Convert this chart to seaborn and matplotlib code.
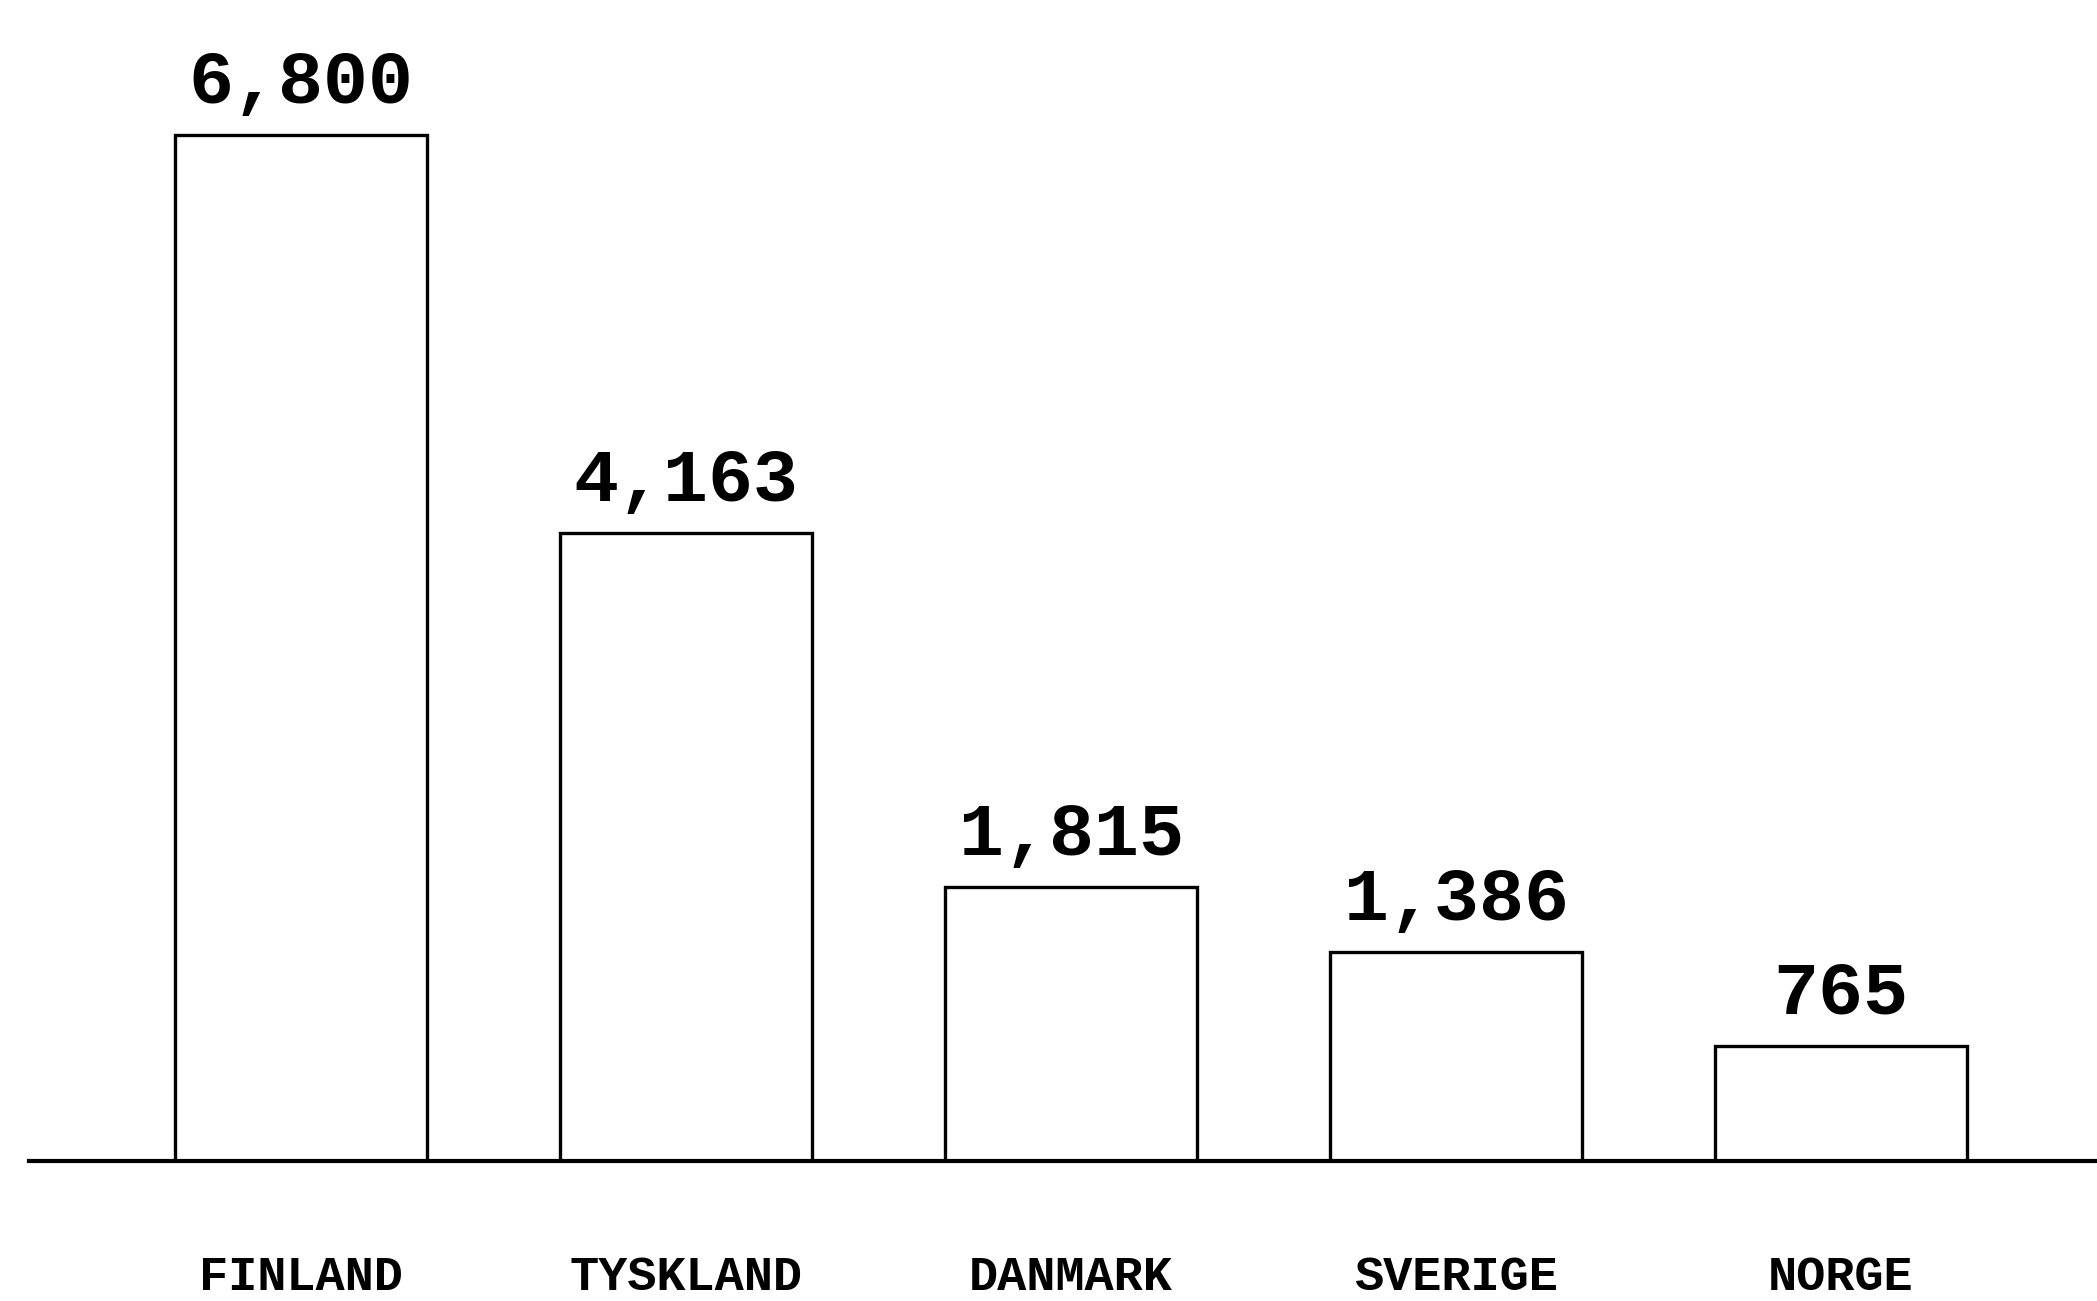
import matplotlib
matplotlib.use("Agg")
import matplotlib.pyplot as plt
import seaborn as sns
import pandas as pd

# country totals
countries = ["FINLAND", "TYSKLAND", "DANMARK", "SVERIGE", "NORGE"]
values = [6800, 4163, 1815, 1386, 765]

df = pd.DataFrame({"country": countries, "value": values})

sns.set_style("white")
plt.rcParams["font.family"] = ["Liberation Mono", "DejaVu Sans Mono"]
plt.rcParams["font.weight"] = "bold"
plt.rcParams["text.color"] = "black"
plt.rcParams["xtick.color"] = "black"

fig = plt.figure(figsize=(20.97, 13.01), dpi=100)
ax = fig.add_axes([29 / 2097, 140 / 1301, 1 - 29 / 2097, 1 - 140 / 1301])

sns.barplot(data=df, x="country", y="value", color="white",
            edgecolor="black", linewidth=2.4, width=0.656, ax=ax)

ax.bar_label(ax.containers[0], labels=[f"{v:,}" for v in values],
             padding=12, fontsize=54, fontweight="bold", color="black")

ax.set_xlim(-0.707, 4.665)
ax.set_ylim(0, 7694)

for side in ["top", "left", "right"]:
    ax.spines[side].set_visible(False)
ax.spines["bottom"].set_linewidth(3)
ax.spines["bottom"].set_color("black")

ax.set_yticks([])
ax.set_xlabel("")
ax.set_ylabel("")
ax.tick_params(axis="x", length=0, pad=68, labelsize=35, labelcolor="black")
for lbl in ax.get_xticklabels():
    lbl.set_fontweight("bold")

fig.savefig("out.png", dpi=100, facecolor="white")
